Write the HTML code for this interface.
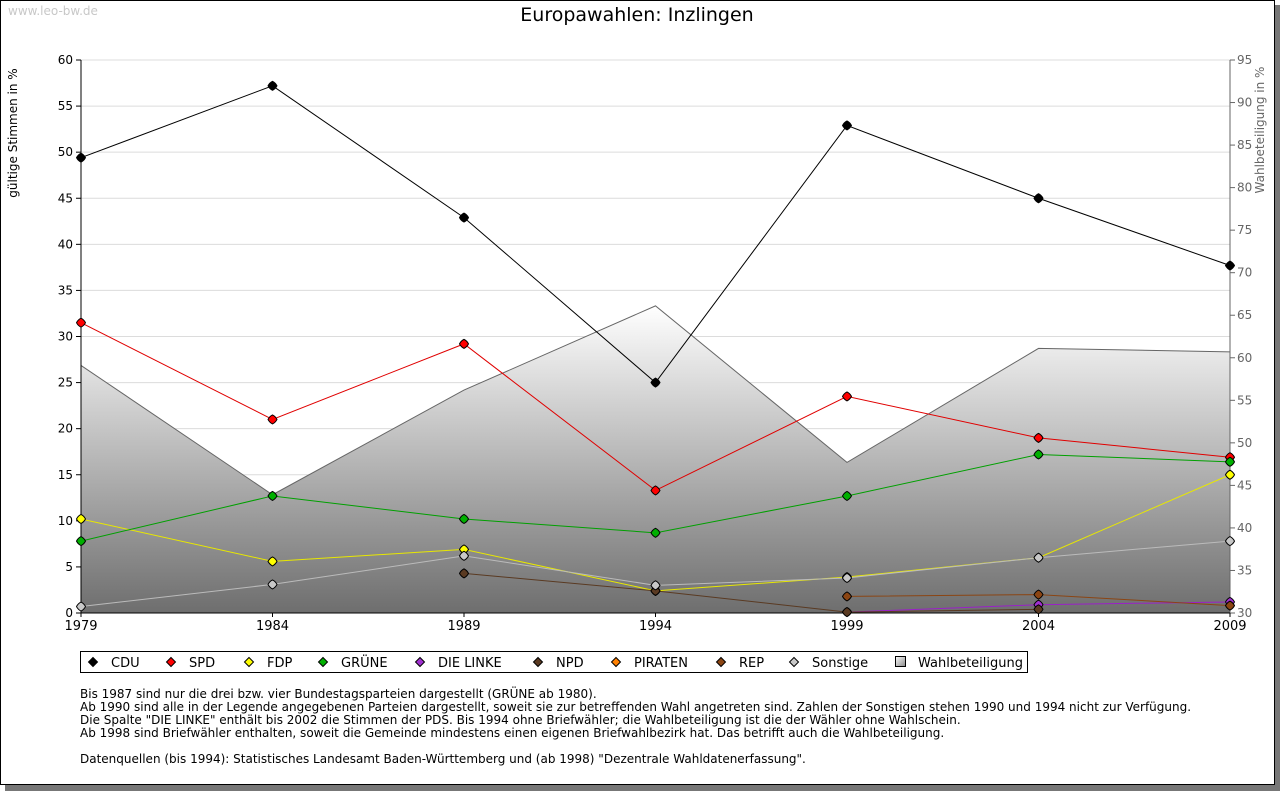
<!DOCTYPE html>
<html><head><meta charset="utf-8">
<style>
body{margin:0;background:#fff;font-family:"DejaVu Sans","Liberation Sans",sans-serif;}
#wrap{position:relative;width:1280px;height:791px;overflow:hidden;}
</style></head>
<body>
<div id="wrap">
<svg id="chart" width="1280" height="791" xmlns="http://www.w3.org/2000/svg" font-family="DejaVu Sans, Liberation Sans, sans-serif">
<defs>
<linearGradient id="wg" x1="0" y1="0" x2="0" y2="1">
<stop offset="0" stop-color="#ffffff"/><stop offset="1" stop-color="#6e6e6e"/>
</linearGradient>
<linearGradient id="lg" x1="0" y1="0" x2="1" y2="1">
<stop offset="0" stop-color="#fff"/><stop offset="1" stop-color="#888"/>
</linearGradient>
</defs>
<rect x="5" y="5" width="1275" height="786" fill="#777"/>
<rect x="0.5" y="0.5" width="1274" height="784" fill="#fff" stroke="#000"/>
<text x="8" y="15" font-size="12" fill="#c8c8c8">www.leo-bw.de</text>
<text x="637" y="21" font-size="19" text-anchor="middle" fill="#000">Europawahlen: Inzlingen</text>
<text transform="translate(17,133) rotate(-90)" font-size="12" text-anchor="middle">gültige Stimmen in %</text>
<text transform="translate(1264,130) rotate(-90)" font-size="12" text-anchor="middle" fill="#666">Wahlbeteiligung in %</text>
<g id="plot"></g>
<g>
<rect x="80.5" y="651.5" width="947" height="21" fill="#fff" stroke="#000"/>
<g id="legend"></g>
</g>
<g font-size="12" fill="#000">
<text x="80" y="698">Bis 1987 sind nur die drei bzw. vier Bundestagsparteien dargestellt (GRÜNE ab 1980).</text>
<text x="80" y="711">Ab 1990 sind alle in der Legende angegebenen Parteien dargestellt, soweit sie zur betreffenden Wahl angetreten sind. Zahlen der Sonstigen stehen 1990 und 1994 nicht zur Verfügung.</text>
<text x="80" y="724">Die Spalte "DIE LINKE" enthält bis 2002 die Stimmen der PDS. Bis 1994 ohne Briefwähler; die Wahlbeteiligung ist die der Wähler ohne Wahlschein.</text>
<text x="80" y="737">Ab 1998 sind Briefwähler enthalten, soweit die Gemeinde mindestens einen eigenen Briefwahlbezirk hat. Das betrifft auch die Wahlbeteiligung.</text>
<text x="80" y="763">Datenquellen (bis 1994): Statistisches Landesamt Baden-Württemberg und (ab 1998) "Dezentrale Wahldatenerfassung".</text>
</g>
</svg>
</div>
<script>
const years = [1979,1984,1989,1994,1999,2004,2009];
const leftTicks = [0,5,10,15,20,25,30,35,40,45,50,55,60];
const rightTicks = [30,35,40,45,50,55,60,65,70,75,80,85,90,95];
const turnout = [59.1,43.9,56.2,66.1,47.7,61.1,60.7];
const cdu = [49.4,57.2,42.9,25.0,52.9,45.0,37.7];
const spd = [31.5,21.0,29.2,13.3,23.5,19.0,16.9];
const fdp = [10.2,5.6,6.9,2.4,3.9,6.0,15.0];
const gruene = [7.8,12.7,10.2,8.7,12.7,17.2,16.4];
const linke = [null,null,null,null,0.1,0.9,1.2];
const npd = [null,null,4.3,2.4,0.1,0.4,null];
const piraten = [null,null,null,null,null,null,null];
const rep = [null,null,null,null,1.8,2.0,0.8];
const sonstige = [0.7,3.1,6.2,3.0,3.8,6.0,7.8];

const X0=81,X1=1230,Y0=613,Y1=60;
const x = y => X0+(y-1979)/(2009-1979)*(X1-X0);
const yl = v => Y0-v/60*(Y0-Y1);
const yr = v => Y0-(v-30)/65*(Y0-Y1);
const NS="http://www.w3.org/2000/svg";
const plot=document.getElementById('plot');
function mk(tag,attrs,parent){const e=document.createElementNS(NS,tag);for(const k in attrs)e.setAttribute(k,attrs[k]);(parent||plot).appendChild(e);return e;}

leftTicks.forEach(t=>{
  if(t>0){const g=mk('line',{x1:X0,x2:X1,y1:yl(t),y2:yl(t),stroke:'#dcdcdc'});
  
  }
  mk('line',{x1:X0-5,x2:X0,y1:yl(t),y2:yl(t),stroke:'#000'});
  const tx=mk('text',{x:X0-8,y:yl(t)+4,'font-size':12,'text-anchor':'end'});
  tx.textContent=t;
  
  
});
let d='M'+x(years[0])+','+Y0;
years.forEach((yy,i)=>d+=' L'+x(yy)+','+yr(turnout[i]));
d+=' L'+x(years[years.length-1])+','+Y0+' Z';
const area=mk('path',{d:d,fill:'url(#wg)'});


const tl=mk('polyline',{points:years.map((yy,i)=>x(yy)+','+yr(turnout[i])).join(' '),fill:'none',stroke:'#666'});


mk('line',{x1:X0,x2:X0,y1:Y1,y2:Y0,stroke:'#000'});
mk('line',{x1:X1,x2:X1,y1:Y1,y2:Y0,stroke:'#666'});
mk('line',{x1:X0,x2:X1,y1:Y0,y2:Y0,stroke:'#000'});
rightTicks.forEach(t=>{
  mk('line',{x1:X1,x2:X1+5,y1:yr(t),y2:yr(t),stroke:'#666'});
  const tx=mk('text',{x:X1+7,y:yr(t)+4,'font-size':12,fill:'#666'});
  tx.textContent=t;
  
  
});
years.forEach(yy=>{
  mk('line',{x1:x(yy),x2:x(yy),y1:Y0,y2:Y0+4,stroke:'#000'});
  const tx=mk('text',{x:x(yy),y:Y0+17,'font-size':13,'text-anchor':'middle'});
  tx.textContent=yy;
  
  
});
const series=[
 ['cdu',cdu,'#000','#000'],['spd',spd,'#e00000','#ff0000'],['fdp',fdp,'#e8e800','#ffff00'],
 ['gruene',gruene,'#00a000','#00b000'],['die-linke',linke,'#9a20c8','#a030d0'],['npd',npd,'#5a3a22','#5a3a22'],
 ['piraten',piraten,'#ff8000','#ff8000'],['rep',rep,'#8b4513','#8b4513'],['sonstige',sonstige,'#bbb','#c8c8c8']];
series.forEach(([name,vals,lc,fc])=>{
  const g=mk('g',{});
  
  
  const pts=[];vals.forEach((v,i)=>{if(v!=null)pts.push(x(years[i])+','+yl(v));});
  if(pts.length>1)mk('polyline',{points:pts.join(' '),fill:'none',stroke:lc,'stroke-width':1},g);
  vals.forEach((v,i)=>{if(v==null)return;const cx=x(years[i]),cy=yl(v);
    const p=mk('path',{d:`M${cx},${cy-4.5} Q${cx+3},${cy-3} ${cx+4.5},${cy} Q${cx+3},${cy+3} ${cx},${cy+4.5} Q${cx-3},${cy+3} ${cx-4.5},${cy} Q${cx-3},${cy-3} ${cx},${cy-4.5} Z`,fill:fc,stroke:'#000','stroke-width':1},g);
    
    
  });
});
const leg=document.getElementById('legend');
const legItems=[['CDU','#000',93],['SPD','#ff0000',171],['FDP','#ffff00',249],['GRÜNE','#00b000',323],['DIE LINKE','#a030d0',420],['NPD','#5a3a22',538],['PIRATEN','#ff8000',616],['REP','#8b4513',721],['Sonstige','#c8c8c8',794]];
legItems.forEach(([t,c,lx])=>{
  const g=mk('g',{},leg);
  
  
  mk('path',{d:`M${lx},657.5 L${lx+4.5},662 L${lx},666.5 L${lx-4.5},662 Z`,fill:c,stroke:'#000'},g);
  const tx=mk('text',{x:lx+18,y:667,'font-size':13},g);tx.textContent=t;
});
const g=mk('g',{},leg);


mk('rect',{x:895.5,y:656.5,width:10,height:10,fill:'url(#lg)',stroke:'#000'},g);
const tx=mk('text',{x:918,y:667,'font-size':13},g);tx.textContent='Wahlbeteiligung';
</script>
</body></html>
